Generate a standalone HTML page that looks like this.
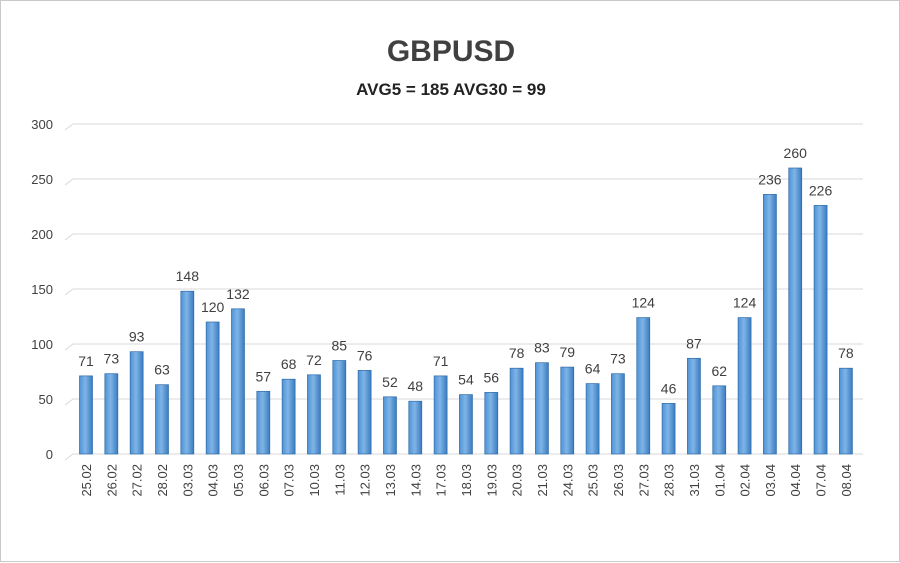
<!DOCTYPE html>
<html><head><meta charset="utf-8"><style>
body{margin:0;background:#fff}
#wrap{width:898px;height:560px;border:1px solid #c9c9c9;background:#fff;position:relative}
svg{position:absolute;left:0;top:0}
text{font-family:"Liberation Sans",sans-serif;fill:#404040}
</style></head><body>
<div id="wrap">
<svg id="c" width="900" height="562">
<defs><linearGradient id="g" x1="0" x2="1" y1="0" y2="0">
<stop offset="0" stop-color="#4f93d6"/><stop offset="0.45" stop-color="#7fb4e6"/><stop offset="1" stop-color="#3a7bc0"/></linearGradient></defs>
<text x="450" y="60" text-anchor="middle" font-size="30" font-weight="bold">GBPUSD</text>
<text x="450" y="94" text-anchor="middle" font-size="17" font-weight="bold" style="fill:#222">AVG5 = 185 AVG30 = 99</text>
</svg></div>
<script>
const categories=["25.02","26.02","27.02","28.02","03.03","04.03","05.03","06.03","07.03","10.03","11.03","12.03","13.03","14.03","17.03","18.03","19.03","20.03","21.03","24.03","25.03","26.03","27.03","28.03","31.03","01.04","02.04","03.04","04.04","07.04","08.04"];
const values=[71,73,93,63,148,120,132,57,68,72,85,76,52,48,71,54,56,78,83,79,64,73,124,46,87,62,124,236,260,226,78];
const ticks=[0,50,100,150,200,250,300];
const svg=document.getElementById('c');const NS="http://www.w3.org/2000/svg";
const y0=453,k=1.1,x0=85,dx=25.33,bw=13;
const Y=v=>y0-v*k, X=i=>x0+i*dx;
function mk(t,a){const e=document.createElementNS(NS,t);for(const n in a)e.setAttribute(n,a[n]);svg.appendChild(e);return e;}
ticks.forEach(t=>{
 const l=mk('polyline',{points:`64,${Y(t)+6} 72,${Y(t)} 862,${Y(t)}`,fill:'none',stroke:'#d9d9d9','stroke-width':1});
 
 
 const tx=mk('text',{x:52,y:Y(t)+5,'text-anchor':'end','font-size':13});tx.textContent=t;
 
 
});
values.forEach((v,i)=>{
 const x=X(i);
 const r=mk('rect',{x:x-bw/2,y:Y(v),width:bw,height:v*k,fill:'url(#g)',stroke:'#2f6ba8','stroke-width':0.7});
 
 
 const lb=mk('text',{x:x,y:Y(v)-10,'text-anchor':'middle','font-size':14});lb.textContent=v;
 
 
 const c=mk('text',{transform:`translate(${x+5},${y0+10}) rotate(-90)`,'text-anchor':'end','font-size':13});c.textContent=categories[i];
 
 
});
</script>
</body></html>
